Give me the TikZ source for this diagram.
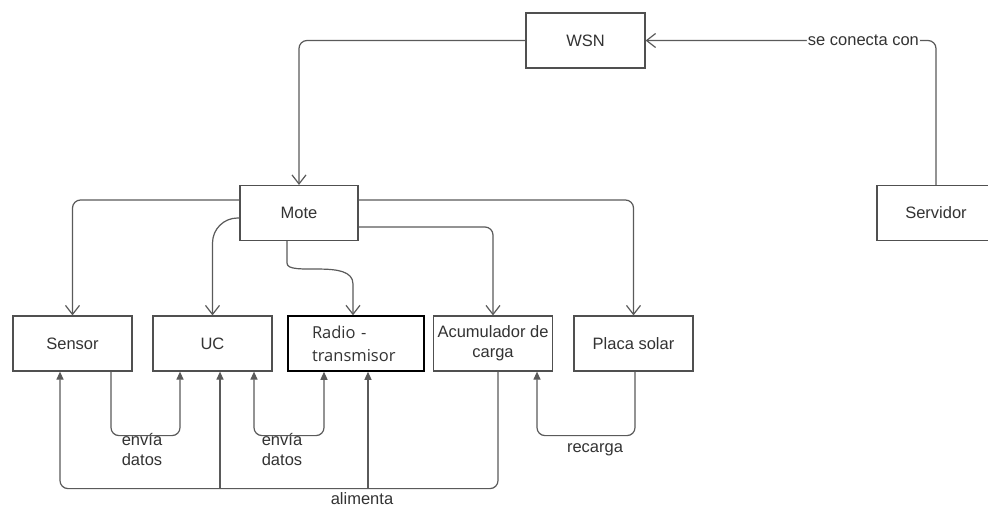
\documentclass[tikz,border=0pt]{standalone}
\usepackage{fontspec}
\setmainfont{Liberation Sans}
\newfontfamily\radiofont{Open Sans}
\usetikzlibrary{arrows.meta}
\definecolor{ln}{HTML}{5A5A5A}
\definecolor{bd}{HTML}{505050}
\definecolor{tx}{HTML}{333333}
\begin{document}
\begin{tikzpicture}[x=1pt,y=-1pt,
  box/.style={draw=bd, line width=1.2pt, minimum width=119pt, minimum height=55pt, inner sep=0pt, text=tx, font=\fontsize{16.5}{20}\selectfont, align=center},
  conn/.style={draw=ln, line width=1.2pt, rounded corners=8pt},
  openarr/.style={conn, -{Straight Barb[length=9pt,width=14pt]}},
  fillarr/.style={conn, -{Triangle[length=8pt,width=7pt]}},
  dblarr/.style={conn, {Triangle[length=8pt,width=7pt]}-{Triangle[length=8pt,width=7pt]}},
  lbl/.style={text=tx, font=\fontsize{16.5}{20}\selectfont, align=center, inner sep=0pt}]
\useasboundingbox (0,0) rectangle (988,509);
\fill[white] (0,0) rectangle (988,509);
% nodes
\node[box] (wsn) at (585.5,40.5) {WSN};
\node[box, minimum width=118pt] (srv) at (936,213) {Servidor};
\node[box, minimum width=118pt] (mote) at (299,213) {Mote};
\node[box] (sensor) at (72.5,343.5) {Sensor};
\node[box] (uc) at (212.5,343.5) {UC};
\node[box, draw=black, line width=1.5pt, minimum width=136pt, text width=88pt, align=left, font=\radiofont\fontsize{16.5}{23}\selectfont] (radio) at (356,343.5) {Radio -\\transmisor};
\node[box] (acum) at (493,343.5) {Acumulador de\\carga};
\node[box] (placa) at (633.5,343.5) {Placa solar};
% top connectors
\draw[openarr] (wsn.west) -| (mote.north);
\draw[openarr] (srv.north) |- node[lbl, fill=white, inner xsep=1pt, pos=0.625] {se conecta con} (wsn.east);
% mote to components
\draw[openarr] ([yshift=13pt]mote.west) -| (sensor.north);
\draw[openarr, rounded corners=25pt] ([yshift=-5pt]mote.west) -| (uc.north);
\draw[openarr] ([xshift=-12pt]mote.south) -- ++(0,14) .. controls ++(0,22) and (353,258) .. (353,292) -- ([xshift=-3pt]radio.north);
\draw[openarr] ([yshift=-14pt]mote.east) -| (acum.north);
\draw[openarr] ([yshift=13pt]mote.east) -| (placa.north);
% data
\draw[fillarr] ([xshift=38.5pt]sensor.south) -- ++(0,64) -| ([xshift=-32.5pt]uc.south);
\node[lbl] (l1) at (142,449) {envía\\datos};
\draw[dblarr] ([xshift=41.5pt]uc.south) -- ++(0,64) -| ([xshift=-32pt]radio.south);
\node[lbl] (l2) at (282,449) {envía\\datos};
% power
\coordinate (bus) at (0,488);
\coordinate (ucb) at ([xshift=7.5pt]uc.south);
\coordinate (rdb) at ([xshift=12pt]radio.south);
\draw[fillarr] ([xshift=5pt]acum.south) -- ++(0,117) -| ([xshift=-12.5pt]sensor.south);
\draw[fillarr] (ucb |- bus) -- (ucb);
\draw[fillarr] (rdb |- bus) -- (rdb);
\node[lbl] (l3) at (362,499) {alimenta};
% recharge
\draw[fillarr] ([xshift=1.5pt]placa.south) -- ++(0,64) -| ([xshift=44pt]acum.south);
\node[lbl] (l4) at (595,450) {recarga};
\end{tikzpicture}
\end{document}
